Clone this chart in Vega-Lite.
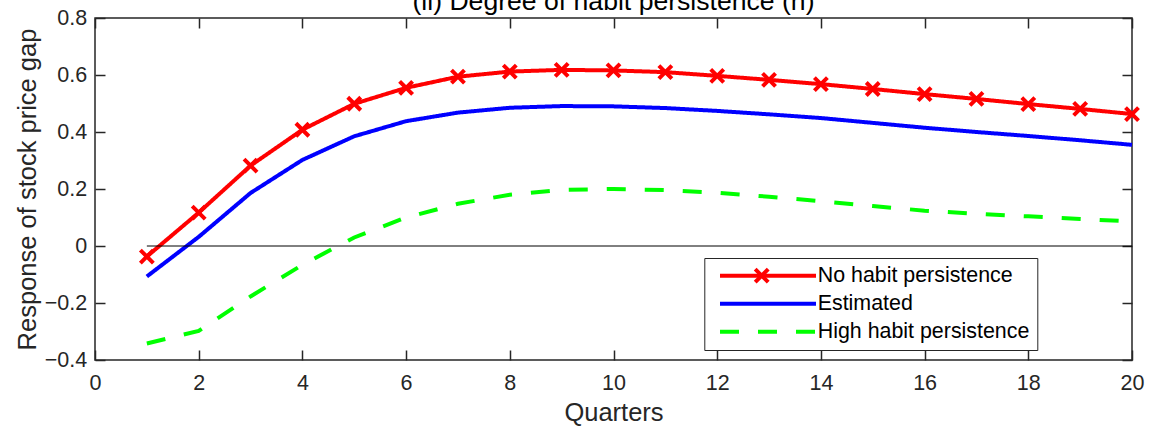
{
  "$schema": "https://vega.github.io/schema/vega-lite/v6.json",
  "width": 1037,
  "height": 342,
  "autosize": {"type": "none"},
  "padding": {"left": 95, "top": 18, "right": 21, "bottom": 69},
  "background": "white",
  "title": {"text": "(ii) Degree of habit persistence (h)", "fontSize": 26.6, "font": "Liberation Sans", "fontWeight": "normal", "color": "#000000", "anchor": "middle", "frame": "group", "baseline": "alphabetic", "offset": 0, "dy": 30},
  "config": {
    "view": {"stroke": "#262626", "strokeWidth": 1.5},
    "axis": {"domain": false, "grid": false, "labelFont": "Liberation Sans", "labelFontSize": 21.5, "labelColor": "#262626", "titleFont": "Liberation Sans", "titleFontSize": 25.5, "titleColor": "#262626", "titleFontWeight": "normal", "tickColor": "#262626", "tickSize": -10, "tickWidth": 1.5, "labelFlush": false, "labelOverlap": false, "labelBound": false}
  },
  "datasets": {
    "irf": [
      {"q": 1, "v": -0.037, "s": "No habit persistence"},
      {"q": 2, "v": 0.117, "s": "No habit persistence"},
      {"q": 3, "v": 0.282, "s": "No habit persistence"},
      {"q": 4, "v": 0.408, "s": "No habit persistence"},
      {"q": 5, "v": 0.499, "s": "No habit persistence"},
      {"q": 6, "v": 0.555, "s": "No habit persistence"},
      {"q": 7, "v": 0.594, "s": "No habit persistence"},
      {"q": 8, "v": 0.612, "s": "No habit persistence"},
      {"q": 9, "v": 0.618, "s": "No habit persistence"},
      {"q": 10, "v": 0.616, "s": "No habit persistence"},
      {"q": 11, "v": 0.610, "s": "No habit persistence"},
      {"q": 12, "v": 0.597, "s": "No habit persistence"},
      {"q": 13, "v": 0.583, "s": "No habit persistence"},
      {"q": 14, "v": 0.568, "s": "No habit persistence"},
      {"q": 15, "v": 0.551, "s": "No habit persistence"},
      {"q": 16, "v": 0.533, "s": "No habit persistence"},
      {"q": 17, "v": 0.516, "s": "No habit persistence"},
      {"q": 18, "v": 0.498, "s": "No habit persistence"},
      {"q": 19, "v": 0.481, "s": "No habit persistence"},
      {"q": 20, "v": 0.463, "s": "No habit persistence"},
      {"q": 1, "v": -0.107, "s": "Estimated"},
      {"q": 2, "v": 0.032, "s": "Estimated"},
      {"q": 3, "v": 0.186, "s": "Estimated"},
      {"q": 4, "v": 0.302, "s": "Estimated"},
      {"q": 5, "v": 0.385, "s": "Estimated"},
      {"q": 6, "v": 0.438, "s": "Estimated"},
      {"q": 7, "v": 0.468, "s": "Estimated"},
      {"q": 8, "v": 0.485, "s": "Estimated"},
      {"q": 9, "v": 0.491, "s": "Estimated"},
      {"q": 10, "v": 0.490, "s": "Estimated"},
      {"q": 11, "v": 0.484, "s": "Estimated"},
      {"q": 12, "v": 0.474, "s": "Estimated"},
      {"q": 13, "v": 0.462, "s": "Estimated"},
      {"q": 14, "v": 0.449, "s": "Estimated"},
      {"q": 15, "v": 0.432, "s": "Estimated"},
      {"q": 16, "v": 0.415, "s": "Estimated"},
      {"q": 17, "v": 0.400, "s": "Estimated"},
      {"q": 18, "v": 0.386, "s": "Estimated"},
      {"q": 19, "v": 0.371, "s": "Estimated"},
      {"q": 20, "v": 0.355, "s": "Estimated"},
      {"q": 1, "v": -0.342, "s": "High habit persistence"},
      {"q": 2, "v": -0.298, "s": "High habit persistence"},
      {"q": 3, "v": -0.177, "s": "High habit persistence"},
      {"q": 4, "v": -0.066, "s": "High habit persistence"},
      {"q": 5, "v": 0.030, "s": "High habit persistence"},
      {"q": 6, "v": 0.100, "s": "High habit persistence"},
      {"q": 7, "v": 0.148, "s": "High habit persistence"},
      {"q": 8, "v": 0.180, "s": "High habit persistence"},
      {"q": 9, "v": 0.197, "s": "High habit persistence"},
      {"q": 10, "v": 0.200, "s": "High habit persistence"},
      {"q": 11, "v": 0.196, "s": "High habit persistence"},
      {"q": 12, "v": 0.187, "s": "High habit persistence"},
      {"q": 13, "v": 0.173, "s": "High habit persistence"},
      {"q": 14, "v": 0.157, "s": "High habit persistence"},
      {"q": 15, "v": 0.140, "s": "High habit persistence"},
      {"q": 16, "v": 0.124, "s": "High habit persistence"},
      {"q": 17, "v": 0.113, "s": "High habit persistence"},
      {"q": 18, "v": 0.104, "s": "High habit persistence"},
      {"q": 19, "v": 0.095, "s": "High habit persistence"},
      {"q": 20, "v": 0.086, "s": "High habit persistence"}
    ],
    "zero": [{"start": 1, "end": 20, "value": 0}]
  },
  "layer": [
    {
      "data": {"name": "irf"},
      "mark": {"type": "line", "strokeWidth": 4, "clip": false},
      "encoding": {
        "x": {"field": "q", "type": "quantitative", "scale": {"domain": [0, 20], "nice": false, "zero": false},
              "axis": {"orient": "bottom", "values": [0, 2, 4, 6, 8, 10, 12, 14, 16, 18, 20], "title": "Quarters", "labelPadding": 22.5, "titlePadding": 6}},
        "y": {"field": "v", "type": "quantitative", "scale": {"domain": [-0.4, 0.8], "nice": false, "zero": false},
              "axis": {"orient": "left", "values": [-0.4, -0.2, 0, 0.2, 0.4, 0.6, 0.8], "format": ".1~f", "title": "Response of stock price gap", "labelPadding": 18.3, "titlePadding": 4}},
        "color": {"field": "s", "type": "nominal",
                  "scale": {"domain": ["No habit persistence", "Estimated", "High habit persistence"], "range": ["#ff0000", "#0000ff", "#00ff00"]},
                  "legend": {"orient": "none", "legendX": 609.3, "legendY": 240, "title": null, "symbolType": "M-1,0L18.2,0", "symbolSize": 100, "symbolStrokeWidth": 4, "symbolOffset": 3, "labelFont": "Liberation Sans", "labelFontSize": 21.4, "labelColor": "#000000", "labelOffset": 82, "padding": 7, "rowPadding": 5, "strokeColor": "#262626", "fillColor": "white", "cornerRadius": 0, "labelLimit": 400}},
        "strokeDash": {"field": "s", "type": "nominal",
                  "scale": {"domain": ["No habit persistence", "Estimated", "High habit persistence"], "range": [[1, 0], [1, 0], [19, 19]]},
                  "legend": {"orient": "none", "legendX": 609.3, "legendY": 240, "title": null, "symbolType": "M-1,0L18.2,0", "symbolSize": 100, "symbolStrokeWidth": 4, "symbolOffset": 3, "labelFont": "Liberation Sans", "labelFontSize": 21.4, "labelColor": "#000000", "labelOffset": 82, "padding": 7, "rowPadding": 5, "strokeColor": "#262626", "fillColor": "white", "cornerRadius": 0, "labelLimit": 400}}
      }
    },
    {
      "data": {"name": "zero"},
      "mark": {"type": "rule", "color": "#000000", "strokeWidth": 1},
      "encoding": {
        "x": {"field": "start", "type": "quantitative", "axis": {"orient": "top", "values": [0, 2, 4, 6, 8, 10, 12, 14, 16, 18, 20], "labels": false, "title": null, "minExtent": 0, "maxExtent": 0}},
        "x2": {"field": "end"},
        "y": {"field": "value", "type": "quantitative", "axis": {"orient": "right", "values": [-0.4, -0.2, 0, 0.2, 0.4, 0.6, 0.8], "labels": false, "title": null, "minExtent": 0, "maxExtent": 0}}
      }
    },
    {
      "data": {"name": "irf"},
      "transform": [{"filter": "datum.s === 'No habit persistence'"}],
      "mark": {"type": "point", "filled": false, "stroke": "#ff0000", "strokeWidth": 4, "size": 169, "opacity": 1},
      "encoding": {
        "x": {"field": "q", "type": "quantitative", "axis": null},
        "y": {"field": "v", "type": "quantitative", "axis": null},
        "shape": {"field": "s", "type": "nominal",
                  "scale": {"domain": ["No habit persistence"], "range": ["M-1,-1L1,1M-1,1L1,-1"]},
                  "legend": {"orient": "none", "legendX": 658.2, "legendY": 249.2, "title": null, "labelExpr": "''", "labelFontSize": 1, "symbolSize": 169, "symbolStrokeWidth": 4, "symbolStrokeColor": "#ff0000", "symbolFillColor": "transparent", "symbolOpacity": 1, "padding": 0, "symbolOffset": 0, "zindex": 2}}
      }
    }
  ]
}
